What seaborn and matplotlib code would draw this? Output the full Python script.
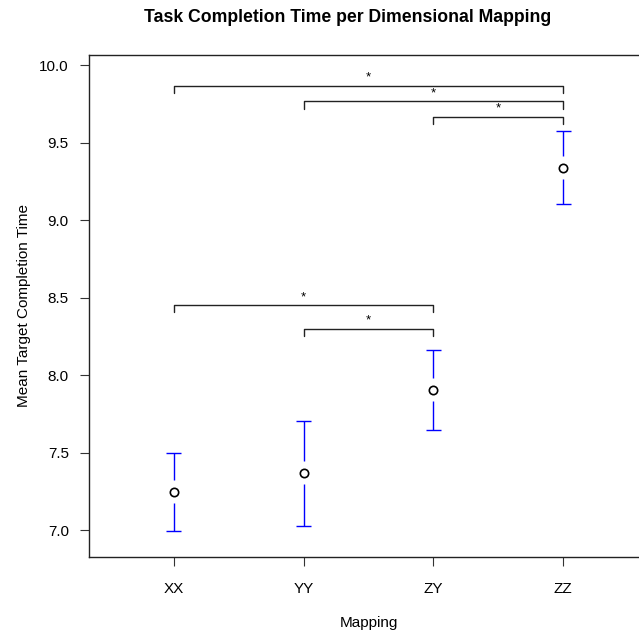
import numpy as np
import pandas as pd
import matplotlib
matplotlib.use("Agg")
import matplotlib.pyplot as plt
import seaborn as sns

# values
mappings = ["XX", "YY", "ZY", "ZZ"]
mean_time = [7.247, 7.366, 7.903, 9.337]
ci_low = [6.994, 7.026, 7.645, 9.103]
ci_high = [7.499, 7.705, 8.163, 9.576]

# significance brackets: (from, to, height)
sig_from = ["XX", "YY", "ZY", "XX", "YY"]
sig_to = ["ZZ", "ZZ", "ZZ", "ZY", "ZY"]
sig_height = [9.866, 9.768, 9.666, 8.452, 8.30]

df = pd.DataFrame({"Mapping": mappings, "Mean": mean_time,
                   "Low": ci_low, "High": ci_high})
df["x"] = np.arange(1, len(mappings) + 1)

sns.set_style("white")
plt.rcParams["font.family"] = ["Liberation Sans", "DejaVu Sans"]
plt.rcParams["text.color"] = "black"
plt.rcParams["axes.labelcolor"] = "black"
plt.rcParams["xtick.color"] = "black"
plt.rcParams["ytick.color"] = "black"

fig = plt.figure(figsize=(6.39, 6.36), dpi=100)
# frame runs past the right edge, like the reference crop
ax = fig.add_axes([89 / 639, 1 - 556.7 / 636, 559 / 639, (556.7 - 55) / 636])
ax.set_xlim(0.345, 4.655)
ax.set_ylim(6.828, 10.065)

# px -> data units for the gap around the point and bracket drops
px = (10.065 - 6.828) / (556.7 - 55)
gap_up, gap_dn = 12 * px, 11 * px
drop = 7.5 * px

blue = "#0000FF"
ax.vlines(df["x"], df["Mean"] + gap_up, df["High"], color=blue, lw=1)
ax.vlines(df["x"], df["Low"], df["Mean"] - gap_dn, color=blue, lw=1)
ax.hlines(df["High"], df["x"] - 0.058, df["x"] + 0.058, color=blue, lw=1)
ax.hlines(df["Low"], df["x"] - 0.058, df["x"] + 0.058, color=blue, lw=1)

sns.scatterplot(data=df, x="x", y="Mean", ax=ax, s=36, marker="o",
                facecolor="white", edgecolor="black", linewidth=1.2, zorder=3)

pos = {m: i + 1 for i, m in enumerate(mappings)}
for a, b, h in zip(sig_from, sig_to, sig_height):
    x1, x2 = pos[a], pos[b]
    ax.plot([x1, x1, x2, x2], [h - drop, h, h, h - drop], color="#222222", lw=1)
    ax.text((x1 + x2) / 2, h + 2 * px, "*", ha="center", va="bottom", fontsize=9.5)

ax.set_xticks(df["x"])
ax.set_xticklabels(mappings)
ax.set_yticks([7.0, 7.5, 8.0, 8.5, 9.0, 9.5, 10.0])
ax.set_yticklabels(["7.0", "7.5", "8.0", "8.5", "9.0", "9.5", "10.0"])
ax.tick_params(axis="both", which="both", direction="out", length=6.5, width=0.8,
               color="#333333", labelsize=11, left=True, bottom=True)
ax.tick_params(axis="y", pad=8)
ax.tick_params(axis="x", pad=12)
for s in ax.spines.values():
    s.set_color("#222222")
    s.set_linewidth(1)

ax.set_xlabel("Mapping", fontsize=11, labelpad=14)
ax.set_ylabel("Mean Target Completion Time", fontsize=11, labelpad=6)
fig.text(347.5 / 639, 1 - 18 / 636, "Task Completion Time per Dimensional Mapping",
         ha="center", va="center", fontsize=12.7, fontweight="bold")

fig.savefig("out.png", dpi=100)
